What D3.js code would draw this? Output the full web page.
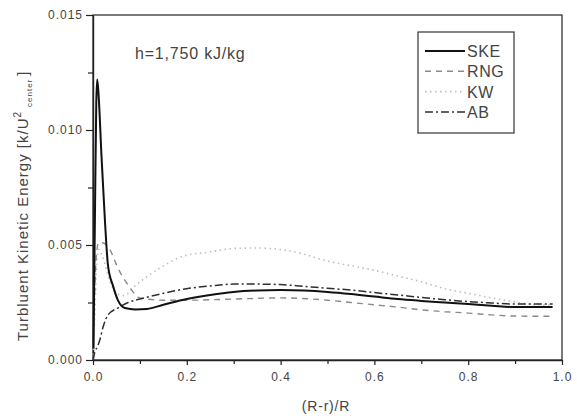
<!DOCTYPE html>
<html>
<head>
<meta charset="utf-8">
<script src="https://cdnjs.cloudflare.com/ajax/libs/d3/7.8.5/d3.min.js"></script>
<style>
  body { margin: 0; background: #fff; }
  text { font-family: "Liberation Sans", Arial, sans-serif; fill: #444; }
</style>
</head>
<body>
<script>
'use strict';

// tick values
const xTicks = [0.0, 0.2, 0.4, 0.6, 0.8, 1.0];
const xMinor = [0.1, 0.3, 0.5, 0.7, 0.9];
const yTicks = [0.000, 0.005, 0.010, 0.015];
const yMinor = [0.0025, 0.0075, 0.0125];

const seriesNames = ["SKE", "RNG", "KW", "AB"];

// curves, [ (R-r)/R , k/U^2 ]
const skeData = [[0.001, 0.0005], [0.004, 0.0060], [0.007, 0.0112], [0.009, 0.0122], [0.012, 0.0115],
  [0.018, 0.0089], [0.0256, 0.0060], [0.032, 0.0041], [0.043, 0.0032], [0.053, 0.0026],
  [0.068, 0.00226], [0.09, 0.0022], [0.115, 0.00222], [0.15, 0.0024], [0.2, 0.00265],
  [0.25, 0.00283], [0.3, 0.00296], [0.35, 0.00302], [0.4, 0.00304], [0.45, 0.00302],
  [0.5, 0.00296], [0.55, 0.00287], [0.6, 0.00276], [0.65, 0.00265], [0.7, 0.00257],
  [0.75, 0.0025], [0.8, 0.00243], [0.85, 0.00236], [0.9, 0.0023], [0.98, 0.0023]];

const rngData = [[0.0, 0.0], [0.003, 0.0025], [0.007, 0.0045], [0.012, 0.0051], [0.02, 0.0051],
  [0.036, 0.0048], [0.053, 0.0040], [0.077, 0.0032], [0.1, 0.0027], [0.15, 0.0026],
  [0.2, 0.0026], [0.3, 0.00265], [0.4, 0.0027], [0.5, 0.0026], [0.55, 0.0025],
  [0.6, 0.0024], [0.65, 0.0023], [0.7, 0.00218], [0.75, 0.0021], [0.8, 0.00204],
  [0.85, 0.00196], [0.9, 0.00191], [0.98, 0.0019]];

const kwData = [[0.0, 0.0], [0.004, 0.002], [0.008, 0.0042], [0.012, 0.0048], [0.02, 0.0045],
  [0.035, 0.0035], [0.05, 0.0029], [0.065, 0.0028], [0.094, 0.0033], [0.12, 0.0037],
  [0.143, 0.0040], [0.19, 0.0045], [0.25, 0.0047], [0.3, 0.00485], [0.35, 0.00487],
  [0.4, 0.0048], [0.45, 0.0046], [0.5, 0.0043], [0.55, 0.0041], [0.6, 0.0039],
  [0.65, 0.00365], [0.7, 0.0034], [0.75, 0.0031], [0.8, 0.0029], [0.85, 0.0027],
  [0.9, 0.00252], [0.95, 0.0024], [0.98, 0.0024]];

const abData = [[0.0, 0.0], [0.004, 0.00035], [0.01, 0.0006], [0.015, 0.0009], [0.021, 0.0014],
  [0.032, 0.00196], [0.053, 0.00226], [0.075, 0.0025], [0.11, 0.0027], [0.15, 0.0029],
  [0.2, 0.0031], [0.25, 0.00322], [0.3, 0.0033], [0.35, 0.0033], [0.4, 0.00328],
  [0.45, 0.0032], [0.5, 0.00312], [0.55, 0.00304], [0.6, 0.00293], [0.65, 0.00283],
  [0.7, 0.00272], [0.75, 0.00262], [0.8, 0.00254], [0.85, 0.00248], [0.9, 0.00243],
  [0.98, 0.00243]];

let svgContainer = "";
let margin = "";
let width = "";
let height = "";

window.onload = function() {
  margin = {top: 15, right: 15, bottom: 56, left: 93};
  width = 577 - margin.left - margin.right;
  height = 416 - margin.top - margin.bottom;

  svgContainer = d3.select('body')
    .append('svg')
    .attr('width', 577)
    .attr('height', 416);

  makeChart();
};

function makeChart() {
  let x = d3.scaleLinear().domain([0, 1]).range([0, width]);
  let y = d3.scaleLinear().domain([0, 0.015]).range([height, 0]);

  let g = svgContainer.append('g')
    .attr('transform', 'translate(' + margin.left + ',' + margin.top + ')');

  // frame (top and right sides)
  g.append('rect')
    .attr('x', 0).attr('y', 0)
    .attr('width', width).attr('height', height)
    .attr('fill', 'none')
    .attr('stroke', '#222')
    .attr('stroke-width', 1.2);

  // minor ticks
  g.append('g')
    .attr('transform', 'translate(0,' + height + ')')
    .call(d3.axisBottom(x).tickValues(xMinor).tickSize(4).tickFormat(''))
    .call((a) => a.select('.domain').remove())
    .selectAll('line').attr('stroke', '#222').attr('stroke-width', 1.2);

  g.append('g')
    .call(d3.axisLeft(y).tickValues(yMinor).tickSize(5).tickFormat(''))
    .call((a) => a.select('.domain').remove())
    .selectAll('line').attr('stroke', '#222').attr('stroke-width', 1.2);

  // major axes
  let xAxis = g.append('g')
    .attr('transform', 'translate(0,' + height + ')')
    .call(d3.axisBottom(x).tickValues(xTicks).tickSize(5).tickSizeOuter(0).tickFormat(d3.format('.1f')));

  let yAxis = g.append('g')
    .call(d3.axisLeft(y).tickValues(yTicks).tickSize(7).tickSizeOuter(0).tickFormat(d3.format('.3f')));

  [xAxis, yAxis].forEach((a) => {
    a.select('.domain').attr('stroke', '#222').attr('stroke-width', 1.4);
    a.selectAll('line').attr('stroke', '#222').attr('stroke-width', 1.2);
    a.selectAll('text')
      .style('font-family', '"Liberation Sans", Arial, sans-serif')
      .style('font-size', '12px')
      .style('letter-spacing', '1px')
      .attr('fill', '#444');
  });
  xAxis.selectAll('text').attr('y', 12);
  yAxis.selectAll('text').attr('x', -10);

  // curves
  let line = d3.line()
    .x((d) => x(d[0]))
    .y((d) => y(d[1]))
    .curve(d3.curveMonotoneX);

  let styles = {
    SKE: {color: '#111', width: 2, dash: null},
    RNG: {color: '#8a8a8a', width: 1.4, dash: '6,5'},
    KW: {color: '#bdbdbd', width: 1.6, dash: '1.5,3.5'},
    AB: {color: '#2e2e2e', width: 1.5, dash: '8,3,2,3'}
  };
  let allData = {SKE: skeData, RNG: rngData, KW: kwData, AB: abData};

  ['KW', 'RNG', 'AB', 'SKE'].forEach((name) => {
    g.append('path')
      .datum(allData[name])
      .attr('fill', 'none')
      .attr('stroke', styles[name].color)
      .attr('stroke-width', styles[name].width)
      .attr('stroke-dasharray', styles[name].dash)
      .attr('d', line);
  });

  // annotation
  svgContainer.append('text')
    .attr('x', 135)
    .attr('y', 59)
    .style('font-size', '16px')
    .style('letter-spacing', '0.8px')
    .text('h=1,750 kJ/kg');

  // legend
  svgContainer.append('rect')
    .attr('x', 418).attr('y', 32)
    .attr('width', 96).attr('height', 101)
    .attr('fill', '#fff')
    .attr('stroke', '#333')
    .attr('stroke-width', 1.2);

  let legend = svgContainer.selectAll('.legend')
    .data(seriesNames)
    .enter()
    .append('g')
    .attr('class', 'legend')
    .attr('transform', (d, i) => 'translate(0,' + (51 + i * 20.3) + ')');

  legend.append('line')
    .attr('x1', 425).attr('x2', 465)
    .attr('y1', 0).attr('y2', 0)
    .attr('stroke', (d) => styles[d].color)
    .attr('stroke-width', (d) => styles[d].width)
    .attr('stroke-dasharray', (d) => styles[d].dash);

  legend.append('text')
    .attr('x', 467)
    .attr('y', 6)
    .style('font-size', '16px')
    .style('letter-spacing', '0.6px')
    .text((d) => d);

  // axis titles
  svgContainer.append('text')
    .attr('x', 326)
    .attr('y', 411)
    .attr('text-anchor', 'middle')
    .style('font-size', '14px')
    .style('letter-spacing', '0.8px')
    .text('(R-r)/R');

  let yLabel = svgContainer.append('text')
    .attr('transform', 'translate(28,341)rotate(-90)')
    .attr('text-anchor', 'start')
    .style('font-size', '15px')
    .style('letter-spacing', '1px');
  yLabel.append('tspan').text('Turbluent Kinetic Energy [k/U');
  yLabel.append('tspan').attr('dy', -7).style('font-size', '10px').text('2');
  yLabel.append('tspan').attr('dy', 11).attr('dx', 4).style('font-size', '8px').text('center');
  yLabel.append('tspan').attr('dy', -4).attr('dx', 3).text(']');
}
</script>
</body>
</html>
